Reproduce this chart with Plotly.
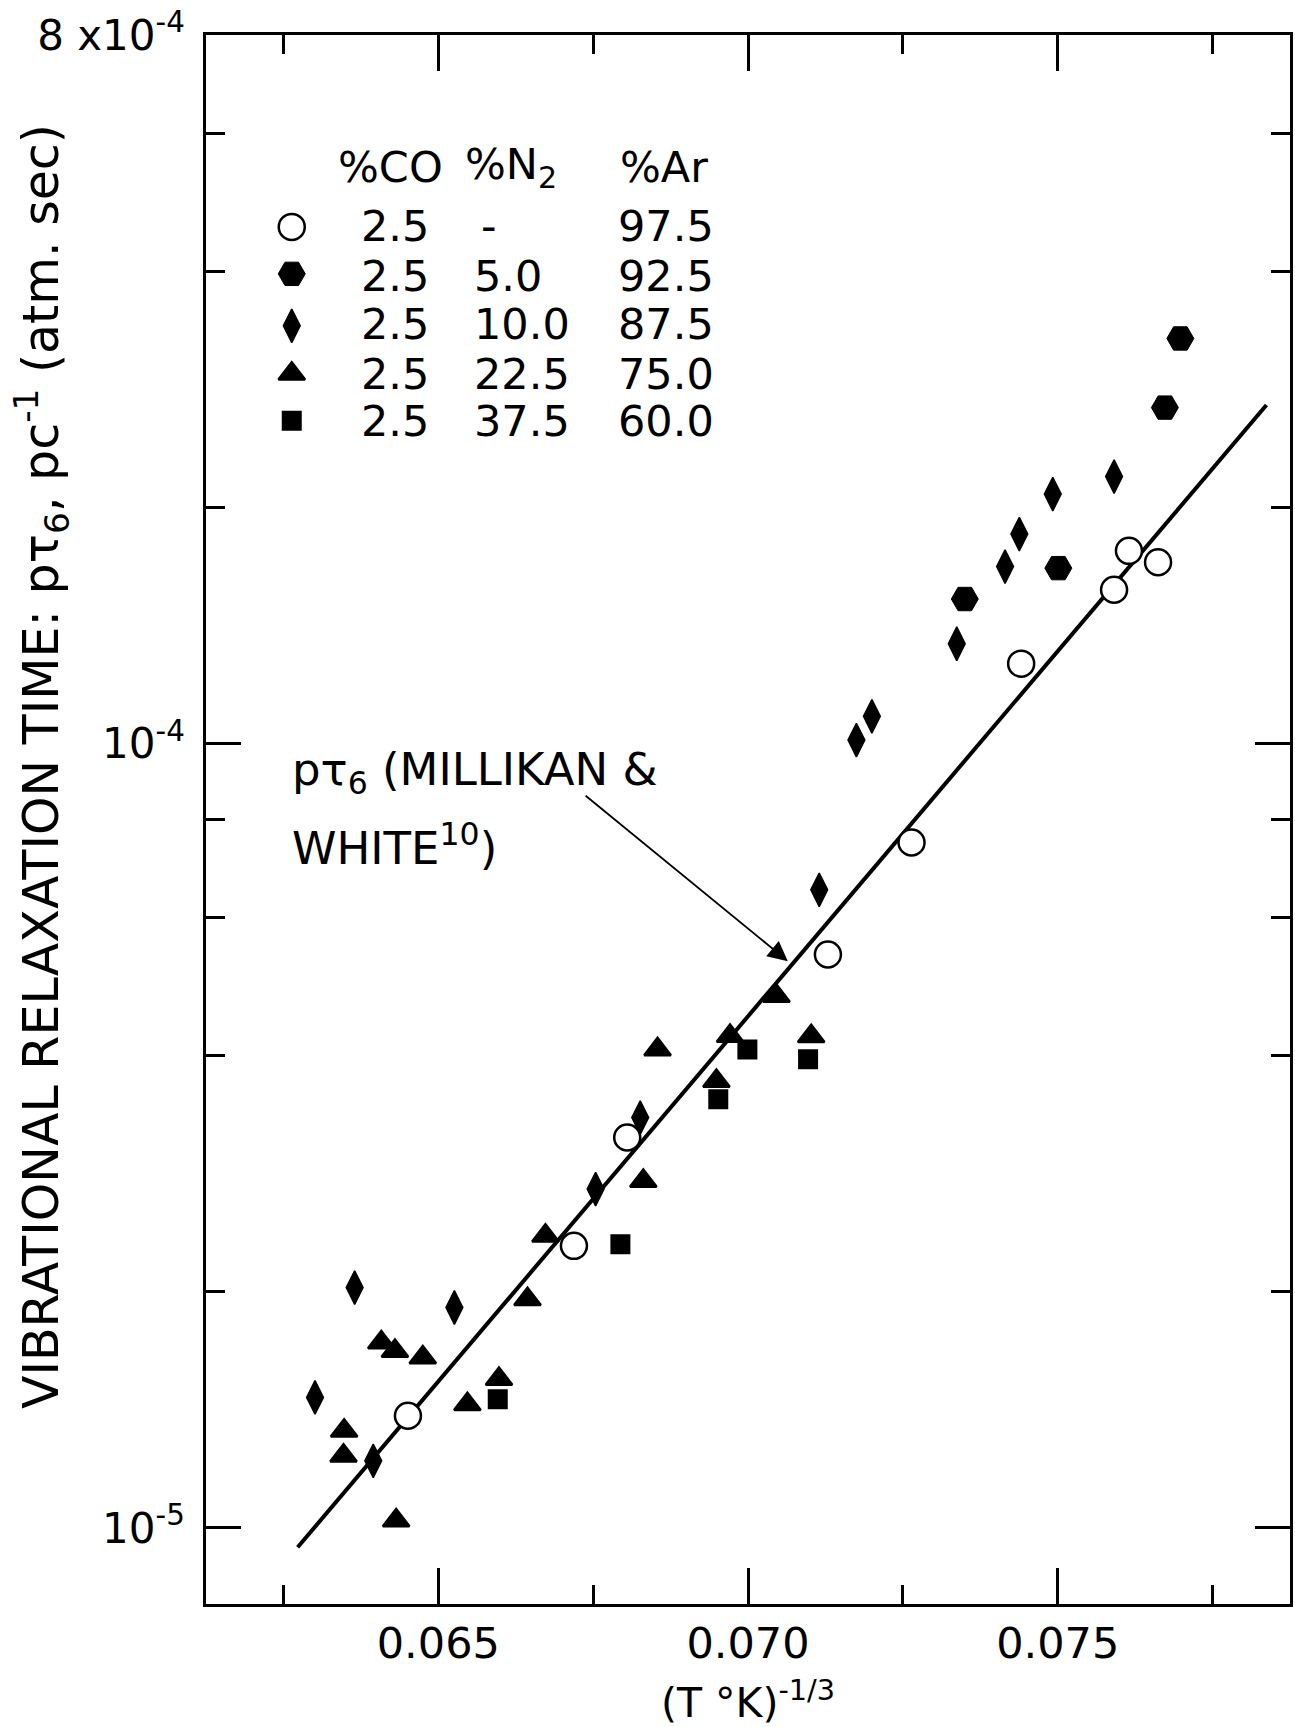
import math
import plotly.graph_objects as go

# ---------------- data ----------------
# 2.5% CO / 97.5% Ar  (open circles)
co_ar_x = [0.06451, 0.06719, 0.06805, 0.07129, 0.07264, 0.07441, 0.07591, 0.07615, 0.07662]
co_ar_y = [1.390e-5, 2.289e-5, 3.146e-5, 5.383e-5, 7.478e-5, 1.264e-4, 1.570e-4, 1.760e-4, 1.702e-4]

# 2.5% CO / 5.0% N2 / 92.5% Ar  (hexagons)
n2_5_x = [0.07350, 0.07501, 0.07673, 0.07698]
n2_5_y = [1.528e-4, 1.673e-4, 2.680e-4, 3.283e-4]

# 2.5% CO / 10.0% N2 / 87.5% Ar  (diamonds)
n2_10_x = [0.06301, 0.06365, 0.06395, 0.06526, 0.06754, 0.06826, 0.07115,
           0.07175, 0.07200, 0.07337, 0.07415, 0.07438, 0.07492, 0.07591]
n2_10_y = [1.467e-5, 2.025e-5, 1.218e-5, 1.910e-5, 2.704e-5, 3.335e-5, 6.508e-5,
           1.010e-4, 1.083e-4, 1.340e-4, 1.681e-4, 1.849e-4, 2.079e-4, 2.189e-4]

# 2.5% CO / 22.5% N2 / 75.0% Ar  (triangles)
n2_22_x = [0.06348, 0.06347, 0.06408, 0.06430, 0.06475, 0.06547, 0.06432, 0.06644,
           0.06673, 0.06831, 0.06854, 0.06949, 0.06971, 0.07046, 0.07102, 0.06598]
n2_22_y = [1.330e-5, 1.236e-5, 1.723e-5, 1.681e-5, 1.649e-5, 1.438e-5, 1.022e-5, 1.957e-5,
           2.357e-5, 2.769e-5, 4.074e-5, 3.713e-5, 4.237e-5, 4.764e-5, 4.235e-5, 1.548e-5]

# 2.5% CO / 37.5% N2 / 60.0% Ar  (squares)
n2_37_x = [0.06596, 0.06794, 0.06999, 0.07097, 0.06952]
n2_37_y = [1.459e-5, 2.300e-5, 4.074e-5, 3.958e-5, 3.519e-5]

# p tau_6 line of Millikan & White
mw_x = [0.06273, 0.07837]
mw_y = [9.45e-6, 2.70e-4]

# arrow pointing at the line (head, tail)
arrow_head = (0.070643, 5.279e-5)
arrow_tail = (0.067355, 8.61e-5)

# legend table
legend_co = ["2.5", "2.5", "2.5", "2.5", "2.5"]
legend_n2 = ["-", "5.0", "10.0", "22.5", "37.5"]
legend_ar = ["97.5", "92.5", "87.5", "75.0", "60.0"]
legend_head = ["%CO", "%N<sub>2</sub>", "%Ar"]

# axis ticks
x_major = [0.065, 0.070, 0.075]
x_minor_step = 0.0025
y_major = [1e-5, 1e-4, 8e-4]
y_major_text = ["10<sup>-5</sup>", "10<sup>-4</sup>", "8 x10<sup>-4</sup>"]
y_minor = [2e-5, 4e-5, 6e-5, 8e-5, 2e-4, 4e-4, 6e-4]

X_RANGE = [0.06125, 0.07875]
Y_RANGE = [8e-6, 8e-4]

# ---------------- layout geometry (pixels) ----------------
W, H = 1295, 1727
L, R, T, B = 206, 1293, 35, 1605
FONT = "DejaVu Sans"


def px_x(px):
    return (px - L) / (R - L)


def px_y(py):
    return (B - py) / (B - T)


styles = [
    dict(name="CO/Ar", x=co_ar_x, y=co_ar_y, symbol="circle", size=26, color="white", lw=2.5),
    dict(name="5.0 N2", x=n2_5_x, y=n2_5_y, symbol="hexagon2", size=27, color="black", lw=1),
    dict(name="10.0 N2", x=n2_10_x, y=n2_10_y, symbol="diamond-tall", size=24, color="black", lw=1.5),
    dict(name="22.5 N2", x=n2_22_x, y=n2_22_y, symbol="triangle-up", size=23, color="black", lw=2.5),
    dict(name="37.5 N2", x=n2_37_x, y=n2_37_y, symbol="square", size=18, color="black", lw=2),
]

fig = go.Figure()

fig.add_trace(go.Scatter(x=mw_x, y=mw_y, mode="lines",
                         line=dict(color="black", width=4), showlegend=False,
                         hoverinfo="skip"))

for s in styles:
    fig.add_trace(go.Scatter(
        x=s["x"], y=s["y"], mode="markers", name=s["name"], showlegend=False,
        marker=dict(symbol=s["symbol"], size=s["size"], color=s["color"],
                    line=dict(color="black", width=s["lw"]))))

# legend key markers (on an overlay axis in plot-fraction units)
key_px_x = 292
key_px_y = [227, 274, 326, 374, 421]
for s, py in zip(styles, key_px_y):
    fig.add_trace(go.Scatter(
        x=[px_x(key_px_x)], y=[px_y(py)], xaxis="x2", yaxis="y2",
        mode="markers", showlegend=False, hoverinfo="skip",
        marker=dict(symbol=s["symbol"], size=s["size"], color=s["color"],
                    line=dict(color="black", width=s["lw"]))))

annotations = []
LFS = 43
head_px_x = [336, 464, 619]
for txt, hx in zip(legend_head, head_px_x):
    annotations.append(dict(xref="paper", yref="paper", x=px_x(hx), y=px_y(167),
                            text=txt, showarrow=False, xanchor="left", yanchor="middle",
                            font=dict(family=FONT, size=LFS, color="black")))
row_cy = [226, 276, 324, 374, 421]
for cy, a, b, c in zip(row_cy, legend_co, legend_n2, legend_ar):
    for txt, cx in ((a, 359), (b, 480 if b == "-" else 473), (c, 617)):
        annotations.append(dict(xref="paper", yref="paper", x=px_x(cx), y=px_y(cy),
                                text=txt, showarrow=False, xanchor="left", yanchor="middle",
                                font=dict(family=FONT, size=LFS, color="black")))

# Millikan & White label
annotations.append(dict(xref="paper", yref="paper", x=px_x(290), y=px_y(772),
                        text="p\u03c4<sub>6</sub> (MILLIKAN &amp;", showarrow=False,
                        xanchor="left", yanchor="middle",
                        font=dict(family=FONT, size=45, color="black")))
annotations.append(dict(xref="paper", yref="paper", x=px_x(290), y=px_y(846),
                        text="WHITE<sup>10</sup>)", showarrow=False,
                        xanchor="left", yanchor="middle",
                        font=dict(family=FONT, size=45, color="black")))
# arrow
annotations.append(dict(xref="x", yref="y", axref="x", ayref="y",
                        x=arrow_head[0], y=math.log10(arrow_head[1]),
                        ax=arrow_tail[0], ay=math.log10(arrow_tail[1]),
                        text="", showarrow=True, arrowhead=2, arrowsize=2.2,
                        arrowwidth=1.8, arrowcolor="black", standoff=0))
# y-axis title
annotations.append(dict(xref="paper", yref="paper", x=px_x(41), y=px_y(767),
                        text="VIBRATIONAL RELAXATION TIME: p\u03c4<sub>6</sub>, pc<sup>-1</sup> (atm. sec)",
                        textangle=-90, showarrow=False, xanchor="center", yanchor="middle",
                        font=dict(family=FONT, size=49, color="black")))

fig.update_layout(
    width=W, height=H,
    margin=dict(l=L, r=W - R, t=T, b=H - B, pad=0),
    paper_bgcolor="white", plot_bgcolor="white",
    font=dict(family=FONT, color="black"),
    showlegend=False,
    annotations=annotations,
    xaxis=dict(
        range=X_RANGE, showgrid=False, zeroline=False,
        showline=True, linecolor="black", linewidth=2.5, mirror="ticks",
        tickmode="array", tickvals=x_major, tickformat=".3f",
        ticks="inside", ticklen=36, tickwidth=2.5, tickcolor="black",
        ticklabelstandoff=0,
        tickfont=dict(family=FONT, size=43, color="black"),
        minor=dict(dtick=x_minor_step, tick0=0.0625, ticks="inside", ticklen=19,
                   tickwidth=2.5, tickcolor="black", showgrid=False),
        title=dict(text="(T \u00b0K)<sup>-1/3</sup>", standoff=28,
                   font=dict(family=FONT, size=41, color="black")),
    ),
    yaxis=dict(
        type="log", range=[math.log10(Y_RANGE[0]), math.log10(Y_RANGE[1])],
        showgrid=False, zeroline=False,
        showline=True, linecolor="black", linewidth=2.5, mirror="ticks",
        tickmode="array", tickvals=y_major, ticktext=y_major_text,
        ticks="inside", ticklen=35, tickwidth=2.5, tickcolor="black",
        ticklabelstandoff=10,
        tickfont=dict(family=FONT, size=42, color="black"),
        minor=dict(tickmode="array", tickvals=y_minor, ticks="inside", ticklen=19,
                   tickwidth=2.5, tickcolor="black", showgrid=False),
    ),
    xaxis2=dict(overlaying="x", range=[0, 1], visible=False, fixedrange=True),
    yaxis2=dict(overlaying="y", range=[0, 1], visible=False, fixedrange=True),
)

fig.write_html("out.html", config={"displayModeBar": False},
               post_script="document.body.style.margin='0px';")
